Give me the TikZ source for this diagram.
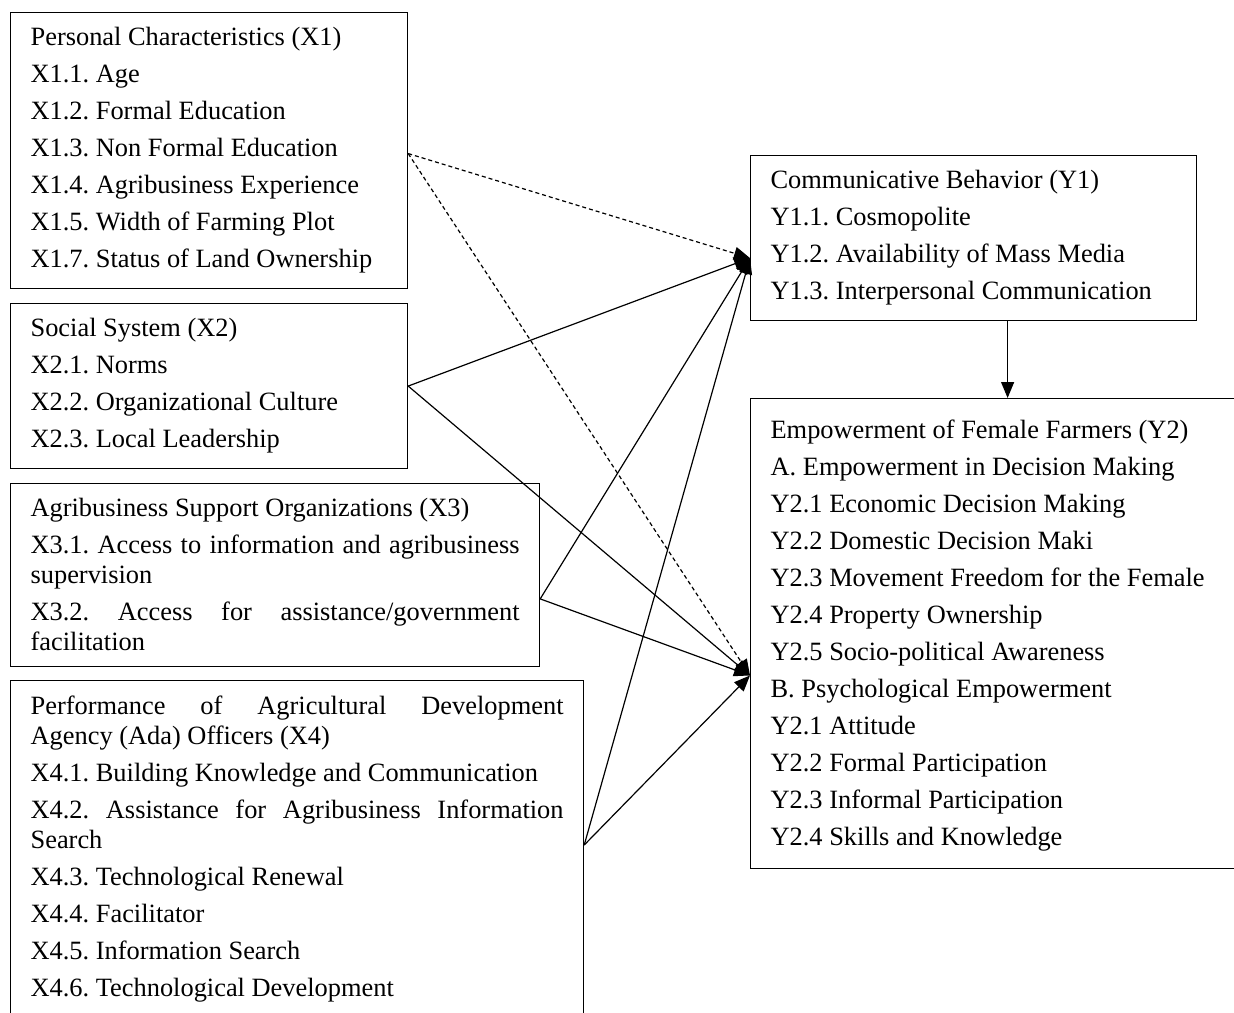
\documentclass[tikz,border=0pt]{standalone}
\usepackage{fontspec}
\setmainfont{Liberation Serif}
\usetikzlibrary{arrows.meta}
\tikzset{
	varbox/.style={draw, line width=0.6pt, anchor=north west, inner xsep=10pt, inner ysep=7.5pt,
		align=justify, font=\fontsize{13.2}{15}\selectfont,
		execute at begin node={\setlength{\parskip}{3.5pt}\hyphenpenalty=10000\frenchspacing}},
	link/.style={line width=0.6pt, -{Triangle[length=8pt,width=6.5pt]}},
	dashlink/.style={link, dash pattern=on 2pt off 1.5pt},
}
\begin{document}
\begin{tikzpicture}[x=0.5pt,y=-0.5pt]
	\useasboundingbox (0,0) rectangle (1234,1012);
	\clip (0,0) rectangle (1234,1012);
	% variabel bebas
	\node[varbox, text width=178.5pt] (x1) at (10,12) {Personal Characteristics (X1)\par
		X1.1. Age\par
		X1.2. Formal Education\par
		X1.3. Non Formal Education\par
		X1.4. Agribusiness Experience\par
		X1.5. Width of Farming Plot\par
		X1.7. Status of Land Ownership};
	\node[varbox, text width=178.5pt] (x2) at (10,303) {Social System (X2)\par
		X2.1. Norms\par
		X2.2. Organizational Culture\par
		X2.3. Local Leadership};
	\node[varbox, text width=244.5pt] (x3) at (10,483) {Agribusiness Support Organizations (X3)\par
		X3.1. Access to information and agribusiness\linebreak supervision\par
		X3.2. Access for assistance/government\linebreak facilitation};
	\node[varbox, text width=266.5pt] (x4) at (10,680) {Performance of Agricultural Development\linebreak Agency (Ada) Officers (X4)\par
		X4.1. Building Knowledge and Communication\par
		X4.2. Assistance for Agribusiness Information\linebreak Search\par
		X4.3. Technological Renewal\par
		X4.4. Facilitator\par
		X4.5. Information Search\par
		X4.6. Technological Development\par\vspace*{12pt}};
	% variabel terikat
	\node[varbox, text width=203pt] (y1) at (750,155) {Communicative Behavior (Y1)\par
		Y1.1. Cosmopolite\par
		Y1.2. Availability of Mass Media\par
		Y1.3. Interpersonal Communication};
	\node[varbox, text width=250pt, inner ysep=8.5pt] (y2) at (750,398) {\rule{0pt}{11.5pt}Empowerment of Female Farmers (Y2)\par
		A. Empowerment in Decision Making\par
		Y2.1 Economic Decision Making\par
		Y2.2 Domestic Decision Maki\par
		Y2.3 Movement Freedom for the Female\par
		Y2.4 Property Ownership\par
		Y2.5 Socio-political Awareness\par
		B. Psychological Empowerment\par
		Y2.1 Attitude\par
		Y2.2 Formal Participation\par
		Y2.3 Informal Participation\par
		Y2.4 Skills and Knowledge};
	% titik panah
	\coordinate (x1out) at ([yshift=-1.5pt]x1.east);
	\coordinate (x2out) at (x2.east);
	\coordinate (x3out) at ([yshift=-12pt]x3.east);
	\coordinate (x4out) at ([yshift=-82.5pt]x4.north east);
	\coordinate (y1in) at ([yshift=-10pt]y1.west);
	\coordinate (y2in) at ([yshift=-21pt]y2.west);
	\coordinate (y1down) at ([xshift=17pt]y1.south);
	% panah
	\draw[dashlink] (x1out) -- (y1in);
	\draw[dashlink] (x1out) -- (y2in);
	\draw[link] (x2out) -- (y1in);
	\draw[link] (x2out) -- (y2in);
	\draw[link] (x3out) -- (y1in);
	\draw[link] (x3out) -- (y2in);
	\draw[link] (x4out) -- (y1in);
	\draw[link] (x4out) -- (y2in);
	\draw[link] (y1down) -- (y1down |- y2.north);
\end{tikzpicture}
\end{document}
